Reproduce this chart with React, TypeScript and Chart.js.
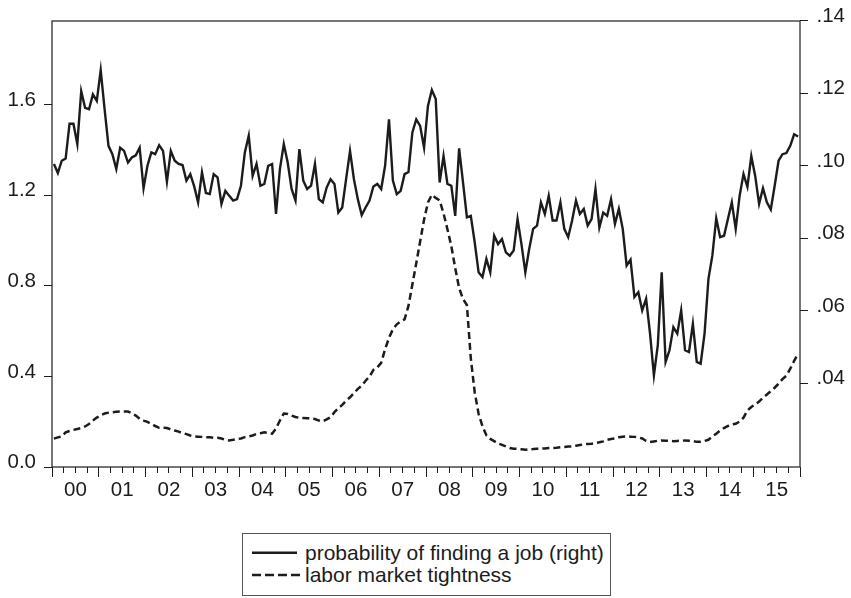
import React, { useEffect, useRef } from 'react';
import { Chart, registerables } from 'chart.js';

Chart.register(...registerables);

// ---------- data (monthly, Jan 2000 – Dec 2015) ----------
const yearLabels = ['00', '01', '02', '03', '04', '05', '06', '07', '08', '09', '10', '11', '12', '13', '14', '15'];
const leftTicks = [0, 0.4, 0.8, 1.2, 1.6];
const rightTicks = [0.04, 0.06, 0.08, 0.1, 0.12, 0.14];
const seriesNames = ['probability of finding a job (right)', 'labor market tightness'];

// probability of finding a job (right axis)
const probability = [
  0.1005, 0.0980, 0.1014, 0.1020, 0.1116, 0.1116, 0.1060, 0.1206, 0.1160, 0.1156, 0.1197, 0.1179,
  0.1264, 0.1156, 0.1055, 0.1032, 0.0991, 0.1050, 0.1041, 0.1009, 0.1023, 0.1029, 0.1050, 0.0938,
  0.1000, 0.1037, 0.1032, 0.1057, 0.1041, 0.0956, 0.1041, 0.1014, 0.1005, 0.1002, 0.0959, 0.0977,
  0.0943, 0.0899, 0.0982, 0.0925, 0.0922, 0.0977, 0.0968, 0.0895, 0.0931, 0.0917, 0.0904, 0.0908,
  0.0945, 0.1037, 0.1083, 0.0972, 0.1005, 0.0945, 0.0950, 0.1000, 0.1005, 0.0867, 0.0991, 0.1060,
  0.1009, 0.0936, 0.0904, 0.1046, 0.0959, 0.0936, 0.0945, 0.1005, 0.0908, 0.0899, 0.0940, 0.0963,
  0.0950, 0.0871, 0.0885, 0.0964, 0.1041, 0.0963, 0.0908, 0.0864, 0.0885, 0.0904, 0.0943, 0.0950,
  0.0936, 0.1000, 0.1128, 0.0959, 0.0922, 0.0931, 0.0977, 0.0983, 0.1092, 0.1128, 0.1110, 0.1050,
  0.1165, 0.1209, 0.1184, 0.0954, 0.1027, 0.0950, 0.0945, 0.0862, 0.1048, 0.0954, 0.0858, 0.0862,
  0.0789, 0.0706, 0.0693, 0.0743, 0.0706, 0.0807, 0.0784, 0.0798, 0.0761, 0.0752, 0.0766, 0.0853,
  0.0784, 0.0706, 0.0771, 0.0826, 0.0835, 0.0899, 0.0867, 0.0917, 0.0849, 0.0849, 0.0899, 0.0826,
  0.0803, 0.0849, 0.0904, 0.0867, 0.0881, 0.0835, 0.0853, 0.0936, 0.0830, 0.0871, 0.0862, 0.0908,
  0.0840, 0.0881, 0.0826, 0.0725, 0.0741, 0.0638, 0.0651, 0.0601, 0.0633, 0.0538, 0.0422, 0.0505,
  0.0706, 0.0459, 0.0491, 0.0555, 0.0537, 0.0601, 0.0491, 0.0486, 0.0564, 0.0459, 0.0454, 0.0537,
  0.0688, 0.0752, 0.0855, 0.0803, 0.0807, 0.0853, 0.0899, 0.0826, 0.0917, 0.0977, 0.0942, 0.1027,
  0.0972, 0.0895, 0.0938, 0.0899, 0.0879, 0.0945, 0.1014, 0.1032, 0.1035, 0.1055, 0.1087, 0.1081,
];

// labor market tightness (left axis)
const tightness = [
  0.125, 0.131, 0.135, 0.153, 0.159, 0.164, 0.168, 0.172, 0.179, 0.190, 0.205, 0.218,
  0.229, 0.236, 0.240, 0.242, 0.244, 0.245, 0.245, 0.245, 0.238, 0.227, 0.213, 0.205,
  0.199, 0.190, 0.181, 0.173, 0.173, 0.172, 0.166, 0.161, 0.156, 0.150, 0.145, 0.139,
  0.135, 0.134, 0.133, 0.131, 0.131, 0.129, 0.129, 0.126, 0.120, 0.117, 0.120, 0.124,
  0.126, 0.132, 0.135, 0.139, 0.146, 0.149, 0.153, 0.150, 0.147, 0.170, 0.205, 0.236,
  0.234, 0.227, 0.221, 0.217, 0.216, 0.215, 0.215, 0.212, 0.205, 0.201, 0.210, 0.220,
  0.242, 0.260, 0.274, 0.293, 0.308, 0.326, 0.345, 0.359, 0.381, 0.399, 0.429, 0.440,
  0.460, 0.520, 0.570, 0.608, 0.630, 0.643, 0.652, 0.711, 0.806, 0.900, 0.996, 1.092,
  1.168, 1.202, 1.188, 1.177, 1.120, 1.050, 0.975, 0.878, 0.790, 0.742, 0.715, 0.480,
  0.330, 0.235, 0.180, 0.140, 0.124, 0.114, 0.104, 0.098, 0.091, 0.084, 0.081, 0.080,
  0.078, 0.076, 0.078, 0.079, 0.081, 0.081, 0.082, 0.084, 0.084, 0.085, 0.087, 0.088,
  0.090, 0.091, 0.094, 0.097, 0.100, 0.102, 0.103, 0.106, 0.109, 0.113, 0.120, 0.124,
  0.126, 0.131, 0.134, 0.135, 0.134, 0.133, 0.131, 0.126, 0.115, 0.110, 0.113, 0.116,
  0.117, 0.116, 0.115, 0.114, 0.115, 0.116, 0.117, 0.116, 0.114, 0.111, 0.112, 0.115,
  0.120, 0.135, 0.147, 0.161, 0.172, 0.181, 0.188, 0.191, 0.201, 0.218, 0.249, 0.265,
  0.276, 0.289, 0.306, 0.320, 0.335, 0.350, 0.368, 0.388, 0.403, 0.434, 0.469, 0.500,
];

const FONT = '"Liberation Sans", Arial, Helvetica, sans-serif';
const INK = '#1c1c1c';
const W = 851;
const H = 598;

export default function App() {
  const ref = useRef<HTMLCanvasElement>(null);

  useEffect(() => {
    const months = probability.length;
    const quarterTicks: number[] = [];
    for (let m = 0; m <= months; m += 3) quarterTicks.push(m);

    const framePlugin = {
      id: 'frame',
      afterDatasetsDraw(chart: any) {
        const { ctx, chartArea: a } = chart;
        ctx.save();
        ctx.strokeStyle = INK;
        ctx.lineWidth = 1.2;
        ctx.strokeRect(Math.round(a.left), Math.round(a.top), Math.round(a.right - a.left), Math.round(a.bottom - a.top));
        ctx.restore();
      },
    };

    const tickFont = { family: FONT, size: 20.5 };

    const chart = new Chart(ref.current as HTMLCanvasElement, {
      type: 'line',
      data: {
        datasets: [
          {
            label: seriesNames[0],
            data: probability.map((v, i) => ({ x: i + 0.5, y: v })),
            yAxisID: 'yRight',
            borderColor: INK,
            borderWidth: 2.4,
            pointRadius: 0,
            tension: 0,
            fill: false,
          },
          {
            label: seriesNames[1],
            data: tightness.map((v, i) => ({ x: i + 0.5, y: v })),
            yAxisID: 'yLeft',
            borderColor: INK,
            borderWidth: 2.5,
            borderDash: [7, 4],
            pointRadius: 0,
            tension: 0,
            fill: false,
          },
        ],
      },
      options: {
        responsive: false,
        animation: false,
        devicePixelRatio: 1,
        layout: { padding: { top: 18.7, left: 0, right: 0, bottom: 0 } },
        plugins: { legend: { display: false }, tooltip: { enabled: false } },
        scales: {
          x: {
            type: 'linear',
            position: 'bottom',
            min: 0,
            max: months,
            afterBuildTicks: (s: any) => {
              s.ticks = quarterTicks.map((v) => ({ value: v }));
            },
            afterFit: (s: any) => {
              s.height = 131;
            },
            border: { display: false },
            grid: {
              display: true,
              drawOnChartArea: false,
              drawTicks: true,
              tickLength: 10,
              tickColor: INK,
              tickWidth: 1,
              tickBorderDash: (c: any) => (c.tick && c.tick.value % 12 === 0 ? [] : [6, 20]),
            },
            ticks: {
              autoSkip: false,
              maxRotation: 0,
              minRotation: 0,
              padding: 1,
              labelOffset: 23.4,
              color: INK,
              font: tickFont,
              callback: (v: any) => {
                const n = Number(v);
                return n % 12 === 0 && n < months ? yearLabels[n / 12] : '';
              },
            },
          },
          yLeft: {
            type: 'linear',
            position: 'left',
            min: 0,
            max: 1.97,
            afterBuildTicks: (s: any) => {
              s.ticks = leftTicks.map((v) => ({ value: v }));
            },
            afterFit: (s: any) => {
              s.width = 52;
            },
            border: { display: false },
            grid: { display: true, drawOnChartArea: false, drawTicks: true, tickLength: 8, tickColor: INK, tickWidth: 1 },
            ticks: {
              padding: 8,
              labelOffset: -4.5,
              color: INK,
              font: tickFont,
              callback: (v: any) => Number(v).toFixed(1),
            },
          },
          yRight: {
            type: 'linear',
            position: 'right',
            min: 0.0169,
            max: 0.14,
            afterBuildTicks: (s: any) => {
              s.ticks = rightTicks.map((v) => ({ value: v }));
            },
            afterFit: (s: any) => {
              s.width = 51;
            },
            border: { display: false },
            grid: { display: true, drawOnChartArea: false, drawTicks: true, tickLength: 8, tickColor: INK, tickWidth: 1 },
            ticks: {
              padding: 8.5,
              labelOffset: -4.5,
              color: INK,
              font: tickFont,
              callback: (v: any) => Number(v).toFixed(2).replace(/^0/, ''),
            },
          },
        },
      } as any,
      plugins: [framePlugin],
    });
    return () => chart.destroy();
  }, []);

  const legendText: React.CSSProperties = {
    position: 'absolute',
    left: 62,
    fontFamily: FONT,
    fontSize: 21,
    lineHeight: '24px',
    color: INK,
    whiteSpace: 'nowrap',
  };

  return (
    <div style={{ position: 'absolute', left: 0, top: 0, width: W, height: H, background: '#fff', overflow: 'hidden' }}>
      <canvas ref={ref} width={W} height={H} style={{ width: W, height: H, display: 'block' }} />
      <div
        style={{
          position: 'absolute',
          left: 242,
          top: 533,
          width: 369,
          height: 63,
          border: '1px solid #555',
          boxSizing: 'border-box',
          background: '#fff',
        }}
      >
        <svg width={60} height={62} style={{ position: 'absolute', left: 0, top: 0 }}>
          <line x1={9} y1={18.7} x2={54} y2={18.7} stroke={INK} strokeWidth={2.5} />
          <line x1={9} y1={41} x2={57} y2={41} stroke={INK} strokeWidth={2.5} strokeDasharray="9,4" />
        </svg>
        <div style={{ ...legendText, top: 6.7 }}>{seriesNames[0]}</div>
        <div style={{ ...legendText, top: 29 }}>{seriesNames[1]}</div>
      </div>
    </div>
  );
}
